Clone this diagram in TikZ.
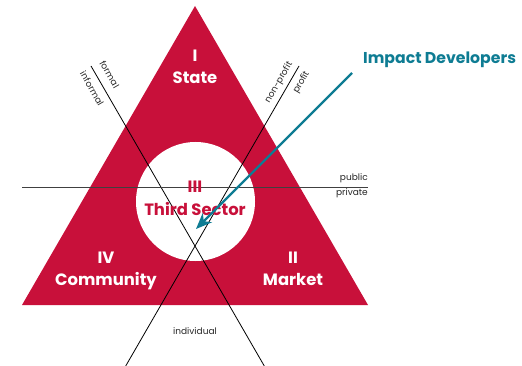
\documentclass[tikz,border=0pt]{standalone}
\usepackage{fontspec}
\setmainfont{Poppins}
\usetikzlibrary{arrows.meta}
\definecolor{crim}{RGB}{200,16,58}
\definecolor{tealc}{RGB}{14,124,147}
\begin{document}
\begin{tikzpicture}[x=1pt,y=-1pt,
  big/.style={font=\fontsize{16.4}{18}\selectfont\bfseries, anchor=base, inner sep=0pt},
  small/.style={font=\fontsize{9}{10}\selectfont, inner sep=0pt, text=black!85},
  divider/.style={black, line width=0.8pt},
  hdivider/.style={black!75, line width=1.2pt},
  pointer/.style={tealc, line width=2.4pt, -{Stealth[length=16pt,width=13pt,inset=5pt]}},
]
\useasboundingbox (0,0) rectangle (522,366);
% triangle
\coordinate (A) at (195,6);
\coordinate (B) at (22,305);
\coordinate (C) at (368,305);
\fill[crim] (A) -- (B) -- (C) -- cycle;
% central circle
\node[circle, fill=white, minimum size=119pt, inner sep=0pt] (core) at (195.5,201.5) {};
% dividing lines
\coordinate (f1) at (91,66);
\coordinate (f2) at (264.3,366);
\coordinate (p1) at (299,66);
\coordinate (p2) at (125.7,366);
\coordinate (h1) at (22,187.7);
\coordinate (h2) at (368,187.7);
\draw[divider] (f1) -- (f2);
\draw[divider] (p1) -- (p2);
\draw[hdivider] (h1) -- (h2);
% sector labels
\node[big, white] (s1) at (195,62) {I};
\node[big, white] (s2) at (195,83.5) {State};
\node[big, white] (c1) at (106,263) {IV};
\node[big, white] (c2) at (106,285.5) {Community};
\node[big, white] (m1) at (293,263) {II};
\node[big, white] (m2) at (293,285.5) {Market};
\node[big, crim] (t1) at (195,193) {III};
\node[big, crim] (t2) at (195,216) {Third Sector};
% small labels
\node[small, rotate=-60] (fo) at (109.5,74.5) {formal};
\node[small, rotate=-60] (inf) at (92,88.5) {informal};
\node[small, rotate=60] (np) at (279,82.5) {non-profit};
\node[small, rotate=60] (pr) at (301.5,82.5) {profit};
\node[small, anchor=base east] (pub) at (368,181) {public};
\node[small, anchor=base east] (pri) at (368,195.5) {private};
\node[small, anchor=base] (ind) at (195,334) {individual};
% impact developers
\node[font=\fontsize{15.7}{18}\selectfont\bfseries, text=tealc, anchor=base west, inner sep=0pt] (impact) at (363,64) {Impact Developers};
\coordinate (astart) at (352,73);
\coordinate (target) at (196,229);
\draw[pointer] (astart) -- (target);
\end{tikzpicture}
\end{document}
